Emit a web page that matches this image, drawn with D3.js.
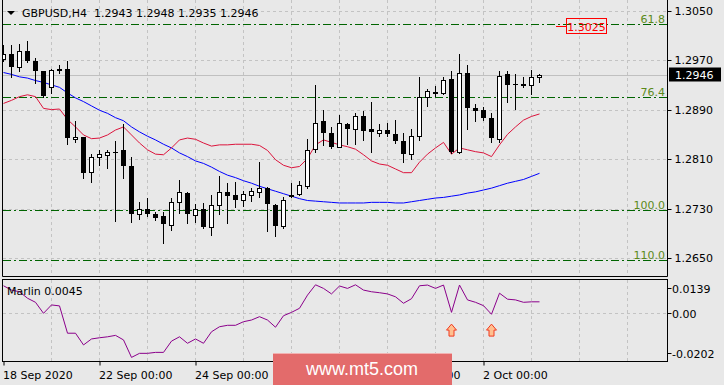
<!DOCTYPE html>
<html><head><meta charset="utf-8">
<script src="https://cdn.jsdelivr.net/npm/d3@7"></script>
<style>html,body{margin:0;padding:0;background:#E8E8E8;overflow:hidden}svg{display:block;font-family:"DejaVu Sans",sans-serif}</style>
</head><body><svg id="c" width="724" height="385"></svg>
<script>
const symbolTitle = "GBPUSD,H4";
const headerOHLC = "1.2943 1.2948 1.2935 1.2946";
const openP = [1.2972,1.2980,1.2959,1.2985,1.2968,1.2952,1.2926,1.2955,1.2956,1.2842,
1.2845,1.2789,1.2813,1.2816,1.2822,1.2825,1.2799,1.2721,1.2730,1.2721,
1.2718,1.2703,1.2741,1.2755,1.2720,1.2729,1.2700,1.2736,1.2756,1.2752,
1.2744,1.2752,1.2757,1.2763,1.2736,1.2701,1.2750,1.2753,1.2767,1.2826,
1.2871,1.2852,1.2830,1.2866,1.2858,1.2879,1.2859,1.2852,1.2857,1.2850,
1.2839,1.2818,1.2848,1.2910,1.2919,1.2917,1.2939,1.2822,1.2950,1.2892,
1.2889,1.2876,1.2843,1.2947,1.2931,1.2930,1.2930,1.2943];
const highP = [1.2995,1.2995,1.2996,1.3001,1.2974,1.2953,1.2955,1.2962,1.2968,1.2872,
1.2846,1.2819,1.2824,1.2825,1.2839,1.2866,1.2814,1.2740,1.2747,1.2725,
1.2725,1.2747,1.2776,1.2757,1.2738,1.2739,1.2752,1.2782,1.2771,1.2773,
1.2759,1.2763,1.2805,1.2765,1.2738,1.2749,1.2772,1.2775,1.2843,1.2930,
1.2889,1.2862,1.2881,1.2868,1.2884,1.2888,1.2903,1.2867,1.2868,1.2873,
1.2852,1.2859,1.2943,1.2923,1.2928,1.2943,1.2952,1.2980,1.2962,1.2899,
1.2895,1.2884,1.2953,1.2953,1.2947,1.2942,1.2954,1.2948];
const lowP = [1.2968,1.2942,1.2952,1.2967,1.2933,1.2911,1.2917,1.2949,1.2834,1.2837,
1.2779,1.2773,1.2800,1.2796,1.2710,1.2779,1.2709,1.2713,1.2718,1.2712,
1.2674,1.2695,1.2723,1.2706,1.2709,1.2699,1.2688,1.2721,1.2706,1.2732,
1.2734,1.2743,1.2749,1.2693,1.2685,1.2699,1.2749,1.2752,1.2763,1.2822,
1.2833,1.2828,1.2829,1.2834,1.2834,1.2841,1.2822,1.2847,1.2847,1.2836,
1.2805,1.2810,1.2841,1.2896,1.2912,1.2915,1.2820,1.2820,1.2859,1.2871,
1.2873,1.2837,1.2837,1.2903,1.2891,1.2926,1.2915,1.2935];
const closeP = [1.2980,1.2959,1.2985,1.2968,1.2952,1.2912,1.2954,1.2956,1.2844,1.2846,
1.2788,1.2814,1.2818,1.2822,1.2821,1.2799,1.2721,1.2729,1.2721,1.2715,
1.2705,1.2741,1.2756,1.2721,1.2729,1.2700,1.2736,1.2757,1.2750,1.2744,
1.2753,1.2758,1.2764,1.2737,1.2701,1.2744,1.2752,1.2768,1.2825,1.2868,
1.2852,1.2830,1.2868,1.2859,1.2880,1.2856,1.2853,1.2857,1.2850,1.2840,
1.2819,1.2847,1.2910,1.2920,1.2915,1.2938,1.2822,1.2950,1.2893,1.2888,
1.2876,1.2844,1.2945,1.2930,1.2930,1.2931,1.2942,1.2946];
const redLine = [1.2900,1.2905,1.2911,1.2914,1.2911,1.2892,1.2890,1.2891,1.2874,1.2862,
1.2849,1.2843,1.2844,1.2849,1.2857,1.2862,1.2849,1.2836,1.2825,1.2818,
1.2817,1.2828,1.2841,1.2844,1.2842,1.2836,1.2831,1.2833,1.2833,1.2834,
1.2834,1.2834,1.2832,1.2824,1.2809,1.2800,1.2796,1.2798,1.2811,1.2833,
1.2841,1.2837,1.2833,1.2830,1.2826,1.2817,1.2807,1.2802,1.2800,1.2794,
1.2788,1.2788,1.2805,1.2818,1.2828,1.2837,1.2818,1.2828,1.2825,1.2822,
1.2820,1.2814,1.2833,1.2850,1.2862,1.2873,1.2879,1.2883];
const blueLine = [1.2950,1.2947,1.2943,1.2941,1.2937,1.2934,1.2930,1.2926,1.2917,1.2909,
1.2903,1.2896,1.2889,1.2884,1.2877,1.2872,1.2862,1.2854,1.2847,1.2841,
1.2834,1.2828,1.2820,1.2814,1.2807,1.2803,1.2797,1.2790,1.2784,1.2780,
1.2775,1.2771,1.2766,1.2762,1.2758,1.2754,1.2750,1.2746,1.2743,1.2742,
1.2741,1.2740,1.2739,1.2739,1.2739,1.2739,1.2740,1.2740,1.2740,1.2739,
1.2739,1.2741,1.2743,1.2745,1.2747,1.2748,1.2750,1.2752,1.2755,1.2757,
1.2760,1.2763,1.2767,1.2771,1.2774,1.2777,1.2782,1.2787];
const marlin = [0.0112,0.0094,0.0087,0.0060,0.0043,-0.0003,0.0032,0.0028,-0.0086,-0.0086,
-0.0135,-0.0110,-0.0105,-0.0101,-0.0095,-0.0114,-0.0187,-0.0170,-0.0170,-0.0166,
-0.0166,-0.0119,-0.0101,-0.0128,-0.0110,-0.0128,-0.0080,-0.0059,-0.0053,-0.0053,
-0.0038,-0.0031,-0.0017,-0.0031,-0.0061,-0.0013,0.0001,0.0018,0.0073,0.0116,
0.0101,0.0078,0.0111,0.0101,0.0116,0.0094,0.0087,0.0083,0.0078,0.0066,
0.0039,0.0058,0.0112,0.0115,0.0101,0.0115,0.0001,0.0115,0.0053,0.0043,
0.0029,-0.0007,0.0081,0.0056,0.0053,0.0043,0.0045,0.0045];
const marlinLabel = "Marlin 0.0045";
const arrowBars = [56, 61];
const arrowLevel = -0.0048;
const priceTicks = [1.2650, 1.2730, 1.2810, 1.2890, 1.2970, 1.3050];
const marlinTicks = [0.0139, 0.0, -0.0202];
const marlinTickLabels = ["0.0139", "0.00", "-0.0202"];
const fibLabels = ["61.8", "76.4", "100.0", "110.0"];
const fibPrices = [1.3028, 1.2911, 1.2728, 1.2647];
const targetPrice = 1.3025;
const targetLabel = "1.3025";
const lastPrice = 1.2946;
const timeTickBars = [0, 12, 24, 36, 48, 60];
const timeTickLabels = ["18 Sep 2020", "22 Sep 00:00", "24 Sep 00:00", "28 Sep 00:00", "30 Sep 00:00", "2 Oct 00:00"];
const gridBars = [6,12,18,24,30,36,42,48,54,60,66,72,78];
const watermark = "www.mt5.com";

const svg = d3.select("#c");
const L = 2.5, R = 667.5, mainTop = 0, mainBot = 276.5, subTop = 279.5, subBot = 361.5;
const x = d3.scaleLinear().domain([0, 67]).range([3.5, 539.5]);
const y = d3.scaleLinear().domain([1.2650, 1.3050]).range([258, 10.7]);
const ym = d3.scaleLinear().domain([-0.0202, 0.0139]).range([361, 279.3]);
const cy = v => Math.round(y(v)) + 0.5;

svg.append("rect").attr("width", 724).attr("height", 385).attr("fill", "#E8E8E8");

const defs = svg.append("defs");
defs.append("clipPath").attr("id", "cm").append("rect").attr("x", 3).attr("y", 0).attr("width", 664).attr("height", 276);
defs.append("clipPath").attr("id", "cs").append("rect").attr("x", 3).attr("y", 280).attr("width", 664).attr("height", 81);

const gm = svg.append("g").attr("clip-path", "url(#cm)");
const gs = svg.append("g").attr("clip-path", "url(#cs)");
const gridC = "#C3C3C3";

// grids
gridBars.forEach(b => {
  const gx = Math.round(x(b)) + 0.5 - 0.5;
  gm.append("line").attr("x1", x(b)).attr("x2", x(b)).attr("y1", 0).attr("y2", 276)
    .attr("stroke", gridC).attr("stroke-dasharray", "3,3");
  gs.append("line").attr("x1", x(b)).attr("x2", x(b)).attr("y1", 280).attr("y2", 361)
    .attr("stroke", gridC).attr("stroke-dasharray", "3,3");
});
priceTicks.forEach(p => {
  gm.append("line").attr("x1", 3).attr("x2", 667).attr("y1", cy(p)).attr("y2", cy(p))
    .attr("stroke", gridC).attr("stroke-dasharray", "3,3");
});
gs.append("line").attr("x1", 3).attr("x2", 667).attr("y1", Math.round(ym(0)) + 0.5).attr("y2", Math.round(ym(0)) + 0.5)
  .attr("stroke", gridC).attr("stroke-dasharray", "3,3");

// current price line
gm.append("line").attr("x1", 3).attr("x2", 667).attr("y1", cy(lastPrice)).attr("y2", cy(lastPrice))
  .attr("stroke", "#C0C0C0");

// fib lines
fibPrices.forEach((p, i) => {
  gm.append("line").attr("x1", 3).attr("x2", 667).attr("y1", cy(p)).attr("y2", cy(p))
    .attr("stroke", "#006400").attr("stroke-dasharray", "8,3,2,3");
  gm.append("text").attr("x", 665).attr("y", cy(p) - 2).attr("text-anchor", "end")
    .attr("font-size", 11).attr("fill", "#5C8A1A").text(fibLabels[i]);
});

// target label
gm.append("line").attr("x1", 556).attr("x2", 567).attr("y1", cy(targetPrice)).attr("y2", cy(targetPrice))
  .attr("stroke", "#FF0000").attr("stroke-width", 1);
gm.append("rect").attr("x", 566.5).attr("y", cy(targetPrice) - 8).attr("width", 40).attr("height", 15)
  .attr("fill", "none").attr("stroke", "#FF0000");
gm.append("text").attr("x", 586.5).attr("y", cy(targetPrice) + 4).attr("text-anchor", "middle")
  .attr("font-size", 11).attr("fill", "#FF0000").text(targetLabel);

// moving lines
const line = d3.line().x((d, i) => x(i)).y(d => y(d));
gm.append("path").datum(blueLine).attr("d", line).attr("fill", "none").attr("stroke", "#0000FF").attr("stroke-width", 1);
gm.append("path").datum(redLine).attr("d", line).attr("fill", "none").attr("stroke", "#DC143C").attr("stroke-width", 1);

// candles
const bars = openP.map((o, i) => ({i, o, h: highP[i], l: lowP[i], c: closeP[i]}));
const cg = gm.append("g");
bars.forEach(d => {
  const xc = x(d.i);
  cg.append("line").attr("x1", xc).attr("x2", xc).attr("y1", Math.round(y(d.h))).attr("y2", Math.round(y(d.l)) + 1)
    .attr("stroke", "#000");
  const top = Math.round(y(Math.max(d.o, d.c)));
  const bot = Math.round(y(Math.min(d.o, d.c)));
  if (d.c >= d.o) {
    cg.append("rect").attr("x", xc - 2).attr("y", top + 0.5).attr("width", 4).attr("height", Math.max(bot - top, 1))
      .attr("fill", "#FFFFFF").attr("stroke", "#000");
  } else {
    cg.append("rect").attr("x", xc - 2.5).attr("y", top).attr("width", 5).attr("height", Math.max(bot - top, 1))
      .attr("fill", "#000");
  }
});

// marlin
const mline = d3.line().x((d, i) => x(i)).y(d => ym(d));
gs.append("path").datum(marlin).attr("d", mline).attr("fill", "none").attr("stroke", "#8B008B").attr("stroke-width", 1);
arrowBars.forEach(b => {
  const xc = x(b), t = ym(arrowLevel);
  gs.append("path").attr("d", `M${xc},${t} L${xc + 5},${t + 6} L${xc + 2.5},${t + 6} L${xc + 2.5},${t + 12} L${xc - 2.5},${t + 12} L${xc - 2.5},${t + 6} L${xc - 5},${t + 6} Z`)
    .attr("fill", "#FFC090").attr("stroke", "#F03A20").attr("stroke-width", 1);
});
svg.append("text").attr("x", 7).attr("y", 295).attr("font-size", 11).attr("fill", "#000").text(marlinLabel);

// borders
const bc = "#000";
svg.append("path").attr("d", `M${L},0 V${mainBot} H${R} V0`).attr("fill", "none").attr("stroke", bc);
svg.append("rect").attr("x", L).attr("y", subTop).attr("width", R - L).attr("height", subBot - subTop)
  .attr("fill", "none").attr("stroke", bc);

// right price axis
const ax = svg.append("g").attr("transform", `translate(${R},0)`)
  .call(d3.axisRight(y).tickValues(priceTicks).tickSize(4).tickFormat(d3.format(".4f")));
ax.select(".domain").remove();
ax.selectAll(".tick").attr("transform", d => `translate(0,${cy(d)})`);
ax.selectAll(".tick text").attr("font-size", 11).attr("font-family", "DejaVu Sans").attr("fill", "#000").attr("x", 7);
ax.selectAll(".tick line").attr("stroke", "#000");

// last price label
svg.append("rect").attr("x", 669).attr("y", cy(lastPrice) - 8).attr("width", 52).attr("height", 14).attr("fill", "#000");
svg.append("text").attr("x", 675).attr("y", cy(lastPrice) + 3.5).attr("font-size", 11).attr("fill", "#FFF")
  .text(d3.format(".4f")(lastPrice));

// marlin axis
marlinTicks.forEach((v, i) => {
  const ty = Math.min(Math.max(Math.round(ym(v)), 288), 353) + 0.5;
  svg.append("line").attr("x1", R).attr("x2", R + 4).attr("y1", ty).attr("y2", ty).attr("stroke", "#000");
  svg.append("text").attr("x", 672).attr("y", ty + 4).attr("font-size", 11).attr("fill", "#000").text(marlinTickLabels[i]);
});

// time axis
const tx = svg.append("g").attr("transform", `translate(0,${subBot})`)
  .call(d3.axisBottom(x).tickValues(timeTickBars).tickSize(4).tickFormat((d, i) => timeTickLabels[i]));
tx.select(".domain").remove();
tx.selectAll(".tick line").attr("stroke", "#000");
tx.selectAll(".tick text").attr("text-anchor", "start").attr("x", -1).attr("y", 10).attr("dy", "0.71em")
  .attr("font-size", 11).attr("font-family", "DejaVu Sans").attr("fill", "#000");

// header
svg.append("path").attr("d", "M7,11 L15,11 L11,15 Z").attr("fill", "#000");
svg.append("text").attr("x", 22).attr("y", 17).attr("font-size", 11).attr("fill", "#000").text(symbolTitle);
svg.append("text").attr("x", 94).attr("y", 17).attr("font-size", 11).attr("fill", "#000").text(headerOHLC);

// watermark
const wm = svg.append("g");
wm.append("rect").attr("x", 273).attr("y", 353).attr("width", 179).attr("height", 40).attr("fill", "#E36B6B");
wm.append("line").attr("x1", 273).attr("x2", 452).attr("y1", 353.5).attr("y2", 353.5).attr("stroke", "#F2B2B2");
wm.append("text").attr("x", 362).attr("y", 375).attr("text-anchor", "middle").attr("font-family", "Liberation Sans, Arial, sans-serif")
  .attr("font-size", 18).attr("fill", "#FFFFFF").text(watermark);
</script></body></html>
